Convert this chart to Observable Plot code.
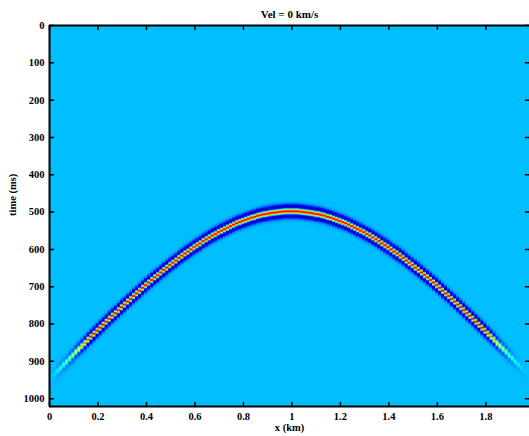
<!DOCTYPE html>
<html>
<head>
<meta charset="utf-8">
<script src="https://cdn.jsdelivr.net/npm/d3@7"></script>
<script src="https://cdn.jsdelivr.net/npm/@observablehq/plot@0.6"></script>
<style>
  html, body { margin: 0; padding: 0; background: #fff; }
  #chart svg { display: block; }
</style>
</head>
<body>
<div id="chart"></div>
<script>
// Labels
const title = "Vel = 0 km/s";
const xLabel = "x (km)";
const yLabel = "time (ms)";

// Axis ticks
const xTicks = [0, 0.2, 0.4, 0.6, 0.8, 1, 1.2, 1.4, 1.6, 1.8];
const yTicks = [0, 100, 200, 300, 400, 500, 600, 700, 800, 900, 1000];

// Section extent: offset (km) and two-way time (ms)
const xExtent = [0, 1.98];
const tExtent = [0, 1021];

// Trace spacing (km); trace i sits at i * traceSpacing
const traceSpacing = 0.0125;

// Diffraction arrival time (ms) on each trace
const arrivals = [
  954, 945, 937, 928, 920, 911, 903, 894, 886, 877,
  869, 861, 853, 844, 836, 828, 820, 812, 804, 796,
  788, 780, 773, 765, 757, 750, 742, 735, 727, 720,
  713, 705, 698, 691, 684, 677, 671, 664, 657, 651,
  644, 638, 632, 625, 619, 613, 608, 602, 596, 591,
  586, 580, 575, 570, 565, 561, 556, 552, 548, 544,
  540, 536, 532, 529, 526, 523, 520, 517, 515, 512,
  510, 508, 507, 505, 504, 503, 502, 501, 500, 500,
  500, 500, 500, 501, 502, 503, 504, 505, 507, 508,
  510, 512, 515, 517, 520, 523, 526, 529, 532, 536,
  540, 544, 548, 552, 556, 561, 565, 570, 575, 580,
  586, 591, 596, 602, 608, 613, 619, 625, 632, 638,
  644, 651, 657, 664, 671, 677, 684, 691, 698, 705,
  713, 720, 727, 735, 742, 750, 757, 765, 773, 780,
  788, 796, 804, 812, 820, 828, 836, 844, 853, 861,
  869, 877, 886, 894, 903, 911, 920, 928, 937
];

// Amplitude of the event on each trace (fades at the ends of the aperture)
const traceGain = [
  0, 0.02, 0.05, 0.1, 0.15, 0.2, 0.27, 0.35, 0.42, 0.5,
  0.6, 0.7, 0.8, 0.9, 1, 1, 1, 1, 1, 1,
  1, 1, 1, 1, 1, 1, 1, 1, 1, 1,
  1, 1, 1, 1, 1, 1, 1, 1, 1, 1,
  1, 1, 1, 1, 1, 1, 1, 1, 1, 1,
  1, 1, 1, 1, 1, 1, 1, 1, 1, 1,
  1, 1, 1, 1, 1, 1, 1, 1, 1, 1,
  1, 1, 1, 1, 1, 1, 1, 1, 1, 1,
  1, 1, 1, 1, 1, 1, 1, 1, 1, 1,
  1, 1, 1, 1, 1, 1, 1, 1, 1, 1,
  1, 1, 1, 1, 1, 1, 1, 1, 1, 1,
  1, 1, 1, 1, 1, 1, 1, 1, 1, 1,
  1, 1, 1, 1, 1, 1, 1, 1, 1, 1,
  1, 1, 1, 1, 1, 1, 1, 1, 1, 1,
  1, 1, 1, 1, 1, 0.9, 0.8, 0.7, 0.6, 0.5,
  0.42, 0.35, 0.27, 0.2, 0.15, 0.1, 0.05, 0.02, 0
];

// Wavelet samples (2 ms step) around the arrival time
const waveletOffsets = [
  -30, -28, -26, -24, -22, -20, -18, -16, -14, -12, -10, -8, -6, -4, -2,
  0, 2, 4, 6, 8, 10, 12, 14, 16, 18, 20, 22, 24, 26, 28, 30
];
const waveletValues = [
  -0.005, -0.012, -0.027, -0.055, -0.103, -0.175, -0.268, -0.365, -0.435, -0.434, -0.320, -0.078, 0.262, 0.621, 0.897,
  1,
  0.897, 0.621, 0.262, -0.078, -0.320, -0.434, -0.435, -0.365, -0.268, -0.175, -0.103, -0.055, -0.027, -0.012, -0.005
];
const sampleStep = 2;

// Colour map range (amplitude), jet palette
const ampRange = [-0.55, 1.22];
const jetStops = [
  "rgb(0,0,128)", "rgb(0,0,255)", "rgb(0,128,255)", "rgb(0,255,255)",
  "rgb(128,255,128)", "rgb(255,255,0)", "rgb(255,128,0)", "rgb(255,0,0)", "rgb(128,0,0)"
];

// One cell per (trace, wavelet sample)
const cells = [];
arrivals.forEach((t, i) => {
  if (traceGain[i] === 0) return;
  const x = i * traceSpacing;
  waveletOffsets.forEach((o, j) => {
    cells.push({
      x1: x - traceSpacing / 2,
      x2: x + traceSpacing / 2,
      t1: t + o - sampleStep / 2,
      t2: t + o + sampleStep / 2,
      amp: traceGain[i] * waveletValues[j]
    });
  });
});

const background = [{x1: xExtent[0], x2: xExtent[1], t1: tExtent[0], t2: tExtent[1], amp: 0}];

// Short inward tick drawn as a vector shape
const tickShape = {
  draw(context, l) {
    context.moveTo(0, 0);
    context.lineTo(0, -l);
  }
};
const tickLen = 4;
const fmt = d => String(d);
const font = "'Liberation Serif', 'Times New Roman', serif";

const chart = Plot.plot({
  width: 529,
  height: 436,
  marginLeft: 49,
  marginRight: 0,
  marginTop: 25,
  marginBottom: 30,
  style: {fontFamily: font, fontSize: "10.5px", fontWeight: "bold", color: "black", background: "white"},
  x: {domain: xExtent, axis: null},
  y: {domain: tExtent, reverse: true, axis: null},
  color: {type: "linear", domain: ampRange, interpolate: d3.piecewise(d3.interpolateRgb, jetStops), clamp: true},
  marks: [
    Plot.rect(background, {x1: "x1", x2: "x2", y1: "t1", y2: "t2", fill: "amp"}),
    Plot.rect(cells, {
      x1: "x1", x2: "x2", y1: "t1", y2: "t2", fill: "amp",
      insetTop: -0.3, insetBottom: -0.3, insetLeft: -0.3, insetRight: -0.3,
      clip: true, imageFilter: "blur(0.6px)"
    }),
    // frame lines: left, top, bottom
    Plot.ruleX([xExtent[0]], {stroke: "black", strokeWidth: 2}),
    Plot.ruleY([tExtent[0], tExtent[1]], {stroke: "black", strokeWidth: 2}),
    // inward ticks on all four sides
    Plot.vector(xTicks, {x: d => d, frameAnchor: "bottom", length: tickLen, rotate: 0, anchor: "start", shape: tickShape, stroke: "black"}),
    Plot.vector(xTicks, {x: d => d, frameAnchor: "top", length: tickLen, rotate: 180, anchor: "start", shape: tickShape, stroke: "black"}),
    Plot.vector(yTicks, {y: d => d, frameAnchor: "left", length: tickLen, rotate: 90, anchor: "start", shape: tickShape, stroke: "black"}),
    Plot.vector(yTicks, {y: d => d, frameAnchor: "right", length: tickLen, rotate: -90, anchor: "start", shape: tickShape, stroke: "black"}),
    // tick labels
    Plot.axisX(xTicks, {anchor: "bottom", tickSize: 0, tickPadding: 6, label: null, tickFormat: fmt, fontSize: 10.5, fontWeight: "bold"}),
    Plot.axisY(yTicks, {anchor: "left", tickSize: 0, tickPadding: 5, label: null, tickFormat: fmt, fontSize: 10.5, fontWeight: "bold"}),
    // titles
    Plot.text([title], {text: d => d, frameAnchor: "top", dy: -15, fontSize: 11, fontWeight: "bold"}),
    Plot.text([xLabel], {text: d => d, frameAnchor: "bottom", dy: 24, fontSize: 10.5, fontWeight: "bold"}),
    Plot.text([yLabel], {text: d => d, frameAnchor: "left", dx: -37, rotate: -90, fontSize: 10.5, fontWeight: "bold"})
  ]
});

document.getElementById("chart").appendChild(chart);
</script>
</body>
</html>
